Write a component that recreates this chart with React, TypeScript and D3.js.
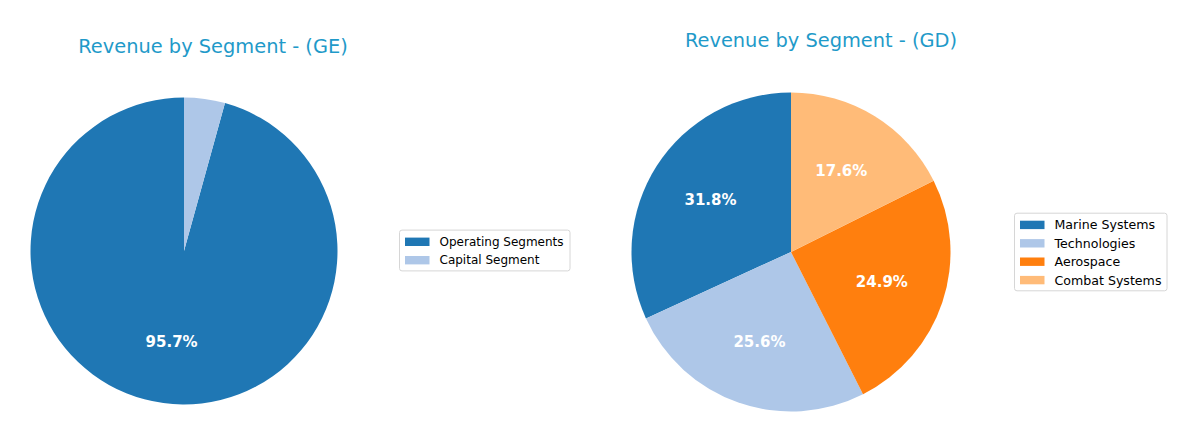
import React from "react";
import * as d3 from "d3";

const geSegments = ["Operating Segments", "Capital Segment"];
const geValues = [95.7, 4.3];
const geColors = ["#1f77b4", "#aec7e8"];

const gdSegments = ["Marine Systems", "Technologies", "Aerospace", "Combat Systems"];
const gdValues = [31.8, 25.6, 24.9, 17.6];
const gdColors = ["#1f77b4", "#aec7e8", "#ff7f0e", "#ffbb78"];

const FONT = "'DejaVu Sans', Verdana, sans-serif";
const TITLE_COLOR = "#1f9ac9";

type PieProps = {
  title: string;
  labels: string[];
  values: number[];
  colors: string[];
  cx: number;
  cy: number;
  r: number;
  titleX: number;
  titleY: number;
  legendX: number;
  legendW: number;
  legendCy: number;
  legendFont: number;
};

function Pie(p: PieProps) {
  const pie = d3
    .pie<number>()
    .sort(null)
    .startAngle(0)
    .endAngle(-2 * Math.PI)
    .value((d) => d);
  const arcs = pie(p.values);
  const arc = d3.arc<d3.PieArcDatum<number>>().innerRadius(0).outerRadius(p.r);
  const labelArc = d3
    .arc<d3.PieArcDatum<number>>()
    .innerRadius(p.r * 0.6)
    .outerRadius(p.r * 0.6);
  const total = d3.sum(p.values);
  const rowH = 18.4;
  const n = p.labels.length;
  const legendH = n * rowH + 4;
  const ly = p.legendCy - legendH / 2;
  return (
    <g>
      <text
        x={p.titleX}
        y={p.titleY}
        textAnchor="middle"
        fontFamily={FONT}
        fontSize={19.4}
        fill={TITLE_COLOR}
      >
        {p.title}
      </text>
      <g transform={`translate(${p.cx},${p.cy})`}>
        {arcs.map((a, i) => (
          <path key={i} d={arc(a) || ""} fill={p.colors[i]} />
        ))}
        {arcs.map((a, i) => {
          const pct = (a.value / total) * 100;
          if (pct < 5) return null;
          const [x, y] = labelArc.centroid(a);
          return (
            <text
              key={"l" + i}
              x={x}
              y={y}
              textAnchor="middle"
              dominantBaseline="central"
              fontFamily={FONT}
              fontWeight="bold"
              fontSize={15}
              fill="#ffffff"
            >
              {pct.toFixed(1) + "%"}
            </text>
          );
        })}
      </g>
      <g>
        <rect
          x={p.legendX}
          y={ly}
          width={p.legendW}
          height={legendH}
          rx={2.5}
          fill="#ffffff"
          stroke="#d6d6d6"
          strokeWidth={1}
        />
        {p.labels.map((lab, i) => {
          const yc = ly + 2 + rowH * (i + 0.5) + 0.5;
          return (
            <g key={lab}>
              <rect
                x={p.legendX + 5.5}
                y={yc - 4.2}
                width={24.5}
                height={8.4}
                fill={p.colors[i]}
              />
              <text
                x={p.legendX + 40}
                y={yc}
                dominantBaseline="central"
                fontFamily={FONT}
                fontSize={p.legendFont}
                fill="#000000"
              >
                {lab}
              </text>
            </g>
          );
        })}
      </g>
    </g>
  );
}

export default function App() {
  return (
    <svg
      width={1200}
      height={443}
      style={{ position: "absolute", left: 0, top: 0, background: "#ffffff" }}
    >
      <rect width={1200} height={443} fill="#ffffff" />
      <Pie
        title="Revenue by Segment - (GE)"
        labels={geSegments}
        values={geValues}
        colors={geColors}
        cx={184}
        cy={251}
        r={153.5}
        titleX={213}
        titleY={53}
        legendX={399.5}
        legendW={170.5}
        legendCy={250.5}
        legendFont={12}
      />
      <Pie
        title="Revenue by Segment - (GD)"
        labels={gdSegments}
        values={gdValues}
        colors={gdColors}
        cx={791}
        cy={252}
        r={159.5}
        titleX={821}
        titleY={47}
        legendX={1014.5}
        legendW={152.5}
        legendCy={252}
        legendFont={12.6}
      />
    </svg>
  );
}
